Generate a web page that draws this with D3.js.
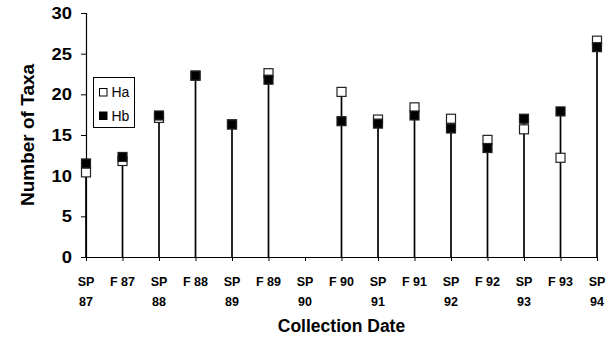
<!DOCTYPE html>
<html>
<head>
<meta charset="utf-8">
<script src="https://cdn.jsdelivr.net/npm/d3@7"></script>
<style>
  body { margin: 0; background: #fff; }
  svg { font-family: "Liberation Sans", Arial, sans-serif; }
</style>
</head>
<body>
<div id="chart"></div>
<script>
const dates = ["SP 87", "F 87", "SP 88", "F 88", "SP 89", "F 89", "SP 90", "F 90",
  "SP 91", "F 91", "SP 92", "F 92", "SP 93", "F 93", "SP 94"];
const ha = [10.4, 11.8, 17.1, 22.3, 16.3, 22.6, null, 20.3, 16.9, 18.4, 17.0, 14.4, 15.7, 12.2, 26.6];
const hb = [11.5, 12.3, 17.4, 22.3, 16.3, 21.8, null, 16.7, 16.4, 17.4, 15.8, 13.4, 17.0, 17.9, 25.8];
const yTicks = [0, 5, 10, 15, 20, 25, 30];

const w = 614, h = 346;
const margin = { top: 13, left: 86, right: 17, bottom: 89 };
const width = w - margin.left - margin.right;
const height = h - margin.top - margin.bottom;

const svg = d3.select("#chart").append("svg")
  .attr("width", w)
  .attr("height", h);

const g = svg.append("g")
  .attr("transform", `translate(${margin.left},${margin.top})`);

const xSc = d3.scalePoint()
  .domain(dates)
  .range([0, width]);

const ySc = d3.scaleLinear()
  .domain([0, 30])
  .range([height, 0]);

// axes
const yAxis = g.append("g")
  .call(d3.axisLeft(ySc).tickValues(yTicks).tickSize(5).tickFormat(""));
yAxis.select(".domain").attr("stroke", "#000").attr("stroke-width", 1.2);
yAxis.selectAll(".tick line").attr("stroke", "#000");

// y labels, a little wide like the original
g.selectAll(".ylab")
  .data(yTicks)
  .join("text")
    .attr("class", "ylab")
    .attr("transform", d => `translate(-14,${ySc(d) + 6}) scale(1.15,1)`)
    .attr("text-anchor", "end")
    .style("font-size", "16px")
    .style("font-weight", "bold")
    .text(d => d);

const xAxis = g.append("g")
  .attr("transform", `translate(0,${height})`)
  .call(d3.axisBottom(xSc).tickSize(4).tickSizeOuter(0).tickFormat(""));
xAxis.select(".domain").attr("stroke", "#000").attr("stroke-width", 1.2);
xAxis.selectAll(".tick line").attr("stroke", "#000");

// two-line tick labels
const lab = g.append("g")
  .attr("transform", `translate(0,${height})`);
dates.forEach(d => {
  const parts = d.startsWith("SP") ? ["SP", d.slice(3)] : [d];
  lab.append("text")
    .attr("x", xSc(d))
    .attr("y", 29)
    .attr("text-anchor", "middle")
    .style("font-size", "12.5px")
    .style("font-weight", "bold")
    .text(parts[0]);
  if (parts[1]) {
    lab.append("text")
      .attr("x", xSc(d))
      .attr("y", 49)
      .attr("text-anchor", "middle")
      .style("font-size", "12.5px")
      .style("font-weight", "bold")
      .text(parts[1]);
  }
});

// drop lines from axis to higher value
const rows = dates.map((d, i) => ({ d, a: ha[i], b: hb[i] }))
  .filter(r => r.a != null && r.b != null);

g.selectAll(".stem")
  .data(rows)
  .join("line")
    .attr("class", "stem")
    .attr("x1", r => xSc(r.d))
    .attr("x2", r => xSc(r.d))
    .attr("y1", ySc(0))
    .attr("y2", r => ySc(Math.max(r.a, r.b)))
    .attr("stroke", "#000")
    .attr("stroke-width", 1.7);

const s = 9;
g.selectAll(".ha")
  .data(rows)
  .join("rect")
    .attr("class", "ha")
    .attr("x", r => xSc(r.d) - s / 2)
    .attr("y", r => ySc(r.a) - s / 2)
    .attr("width", s)
    .attr("height", s)
    .attr("fill", "#fff")
    .attr("stroke", "#222")
    .attr("stroke-width", 1.2);

g.selectAll(".hb")
  .data(rows)
  .join("rect")
    .attr("class", "hb")
    .attr("x", r => xSc(r.d) - s / 2)
    .attr("y", r => ySc(r.b) - s / 2)
    .attr("width", s)
    .attr("height", s)
    .attr("fill", "#000")
    .attr("stroke", "#222")
    .attr("stroke-width", 1.2);

// legend
const legend = svg.append("g").attr("transform", "translate(93.5,77.5)");
legend.append("rect")
  .attr("width", 41).attr("height", 50)
  .attr("fill", "#fff").attr("stroke", "#000").attr("stroke-width", 1);
[["Ha", "#fff", 11], ["Hb", "#000", 34.5]].forEach(([t, c, y]) => {
  legend.append("rect")
    .attr("x", 6).attr("y", y)
    .attr("width", 7.5).attr("height", 7.5)
    .attr("fill", c).attr("stroke", "#000").attr("stroke-width", 1);
  legend.append("text")
    .attr("x", 18).attr("y", y + 8.5)
    .style("font-size", "14px")
    .text(t);
});

// titles
svg.append("text")
  .attr("transform", `translate(34,${margin.top + height / 2}) rotate(-90)`)
  .attr("text-anchor", "middle")
  .style("font-size", "19px")
  .style("font-weight", "bold")
  .text("Number of Taxa");

svg.append("text")
  .attr("x", margin.left + width / 2)
  .attr("y", 332)
  .attr("text-anchor", "middle")
  .style("font-size", "17.5px")
  .style("font-weight", "bold")
  .text("Collection Date");
</script>
</body>
</html>
